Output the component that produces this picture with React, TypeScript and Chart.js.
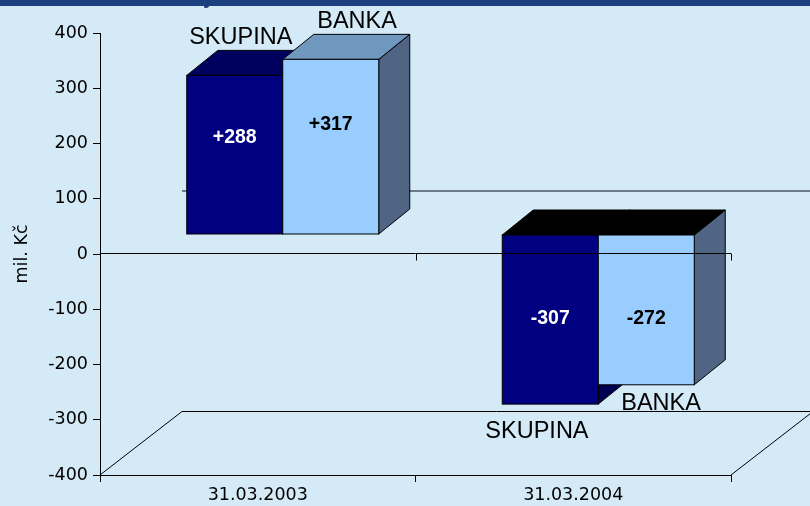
import React, { useEffect, useRef } from 'react';
import { Chart, registerables } from 'chart.js';

Chart.register(...registerables);

// ---- data ----
const categories = ['31.03.2003', '31.03.2004'];
const seriesNames = ['SKUPINA', 'BANKA'];
const skupinaValues = [288, -307];
const bankaValues = [317, -272];
const yMin = -400;
const yMax = 400;
const yStep = 100;
const yAxisTitle = 'mil. Kč';

// ---- styles ----
const FRONT = ['#000080', '#99CCFF'];
const TOP = ['#00005E', '#7097BE'];
const SIDE = ['#000050', '#4F6583'];
const NEG_TOP = '#000000';
const VALUE_TEXT = ['#FFFFFF', '#000000'];
const BG = '#D4EAF6';
const BAND = '#1C3F80';
const AXIS_FONT = '"DejaVu Sans", Verdana, sans-serif';
const LABEL_FONT = '"Liberation Sans", Arial, sans-serif';
const AXIS_SIZE = 17.5;

const BAR_DEPTH = { dx: 31, dy: -25 };
const BAR_SHIFT = { dx: 25, dy: -19.5 };
const FLOOR_DEPTH = { dx: 82, dy: -63 };
// label nudges [series][category]
const NAME_NUDGE = [
  [{ dx: 6, dy: -31.4 }, { dx: -13.3, dy: 34.2 }],
  [{ dx: 26.3, dy: -30.9 }, { dx: 14.8, dy: 25.2 }],
];
const VALUE_NUDGE = [
  [-16.6, -1],
  [-22.3, 8.7],
];

const seriesValues = [skupinaValues, bankaValues];

const fmt = (v: number) => (v > 0 ? '+' + v : String(v));

const excel3d = {
  id: 'excel3d',
  beforeDraw(chart: any) {
    const { ctx, width, height } = chart;
    ctx.save();
    ctx.fillStyle = BG;
    ctx.fillRect(0, 0, width, height);
    ctx.fillStyle = BAND;
    ctx.fillRect(0, 0, width, 6);
    // descender of the cut-off heading above the chart
    ctx.font = `bold 22px ${LABEL_FONT}`;
    ctx.textBaseline = 'alphabetic';
    ctx.textAlign = 'left';
    ctx.fillText('y', 203, 3);
    ctx.restore();
  },
  beforeDatasetsDraw(chart: any) {
    const { ctx, chartArea, scales } = chart;
    const { left, right, bottom } = chartArea;
    ctx.save();
    // back wall zero line
    const yb = Math.round(scales.y.getPixelForValue(0) + FLOOR_DEPTH.dy);
    ctx.strokeStyle = '#6E7A86';
    ctx.lineWidth = 2;
    ctx.beginPath();
    ctx.moveTo(left + FLOOR_DEPTH.dx, yb);
    ctx.lineTo(right + FLOOR_DEPTH.dx, yb);
    ctx.stroke();
    // floor
    ctx.strokeStyle = '#000';
    ctx.lineWidth = 1;
    const fb = Math.round(bottom + FLOOR_DEPTH.dy) - 0.5;
    ctx.beginPath();
    ctx.moveTo(left, bottom);
    ctx.lineTo(left + FLOOR_DEPTH.dx, fb);
    ctx.lineTo(right + FLOOR_DEPTH.dx, fb);
    ctx.lineTo(right, bottom);
    ctx.stroke();
    ctx.restore();
  },
  beforeDatasetDraw() {
    return false;
  },
  afterDatasetsDraw(chart: any) {
    const { ctx, chartArea, scales } = chart;
    const { left, right } = chartArea;
    const n = categories.length;
    const boxes: any[] = [];
    ctx.save();
    ctx.lineWidth = 1;
    ctx.strokeStyle = '#000';
    ctx.lineJoin = 'miter';
    for (let j = 0; j < n; j++) {
      for (let i = 0; i < chart.data.datasets.length; i++) {
        const el = chart.getDatasetMeta(i).data[j];
        const p = el.getProps(['x', 'y', 'base', 'width'], true);
        const l = p.x - p.width / 2 + BAR_SHIFT.dx;
        const r = p.x + p.width / 2 + BAR_SHIFT.dx;
        const t = Math.min(p.y, p.base) + BAR_SHIFT.dy;
        const b = Math.max(p.y, p.base) + BAR_SHIFT.dy;
        const neg = seriesValues[i][j] < 0;
        const { dx, dy } = BAR_DEPTH;
        // side face
        ctx.fillStyle = SIDE[i];
        ctx.beginPath();
        ctx.moveTo(r, t);
        ctx.lineTo(r + dx, t + dy);
        ctx.lineTo(r + dx, b + dy);
        ctx.lineTo(r, b);
        ctx.closePath();
        ctx.fill();
        ctx.stroke();
        // top face
        ctx.fillStyle = neg ? NEG_TOP : TOP[i];
        ctx.beginPath();
        ctx.moveTo(l, t);
        ctx.lineTo(l + dx, t + dy);
        ctx.lineTo(r + dx, t + dy);
        ctx.lineTo(r, t);
        ctx.closePath();
        ctx.fill();
        ctx.stroke();
        // front face
        ctx.fillStyle = FRONT[i];
        ctx.fillRect(l, t, r - l, b - t);
        ctx.strokeRect(l, t, r - l, b - t);
        boxes.push({ i, j, l, r, t, b, neg });
      }
    }
    // front zero line with ticks
    const y0 = Math.round(scales.y.getPixelForValue(0)) - 0.5;
    ctx.beginPath();
    ctx.moveTo(left, y0);
    ctx.lineTo(right, y0);
    const cw = (right - left) / n;
    for (let k = 1; k <= n; k++) {
      const xb = Math.round(left + k * cw) + 0.5;
      ctx.moveTo(xb, y0);
      ctx.lineTo(xb, y0 + 7);
    }
    ctx.stroke();
    // labels
    ctx.textAlign = 'center';
    for (const bx of boxes) {
      const cx = (bx.l + bx.r) / 2;
      const nn = NAME_NUDGE[bx.i][bx.j];
      ctx.font = `23.5px ${LABEL_FONT}`;
      ctx.fillStyle = '#000';
      ctx.textBaseline = 'alphabetic';
      const ny = bx.neg ? bx.b + nn.dy : bx.t + nn.dy;
      ctx.fillText(seriesNames[bx.i], cx + nn.dx, ny);
      ctx.font = `bold 19.5px ${LABEL_FONT}`;
      ctx.fillStyle = VALUE_TEXT[bx.i];
      ctx.textBaseline = 'middle';
      ctx.fillText(fmt(seriesValues[bx.i][bx.j]), cx, (bx.t + bx.b) / 2 + VALUE_NUDGE[bx.i][bx.j]);
    }
    ctx.restore();
  },
};

export default function App() {
  const ref = useRef<HTMLCanvasElement>(null);
  useEffect(() => {
    if (!ref.current) return;
    const chart = new Chart(ref.current, {
      type: 'bar',
      data: {
        labels: categories,
        datasets: seriesNames.map((name, i) => ({
          label: name,
          data: seriesValues[i],
          backgroundColor: FRONT[i],
          categoryPercentage: 0.6086,
          barPercentage: 1,
        })),
      },
      options: {
        responsive: true,
        maintainAspectRatio: false,
        animation: false,
        layout: { padding: { top: 33, right: 79, left: 0, bottom: 0 } },
        plugins: {
          legend: { display: false },
          tooltip: { enabled: false },
          title: { display: false },
        },
        scales: {
          x: {
            type: 'category',
            offset: true,
            grid: {
              display: true,
              drawOnChartArea: false,
              drawTicks: true,
              tickLength: 7,
              tickColor: '#000',
              offset: true,
            },
            border: { display: true, color: '#000', width: 1 },
            ticks: {
              color: '#000',
              font: { family: AXIS_FONT, size: AXIS_SIZE },
              padding: 3,
              maxRotation: 0,
              autoSkip: false,
            },
            afterFit: (s: any) => {
              s.height = 31;
            },
          },
          y: {
            min: yMin,
            max: yMax,
            ticks: {
              stepSize: yStep,
              color: '#000',
              font: { family: AXIS_FONT, size: AXIS_SIZE },
              padding: 5,
            },
            grid: {
              display: true,
              drawOnChartArea: false,
              drawTicks: true,
              tickLength: 7,
              tickColor: '#000',
            },
            border: { display: true, color: '#000', width: 1 },
            title: {
              display: true,
              text: yAxisTitle,
              color: '#000',
              font: { family: AXIS_FONT, size: AXIS_SIZE },
              padding: { top: 12, bottom: 0 },
            },
            afterFit: (s: any) => {
              s.width = 100;
            },
          },
        },
      } as any,
      plugins: [excel3d as any],
    });
    return () => chart.destroy();
  }, []);
  return (
    <div style={{ position: 'absolute', left: 0, top: 0, width: 810, height: 506 }}>
      <canvas ref={ref} />
    </div>
  );
}
